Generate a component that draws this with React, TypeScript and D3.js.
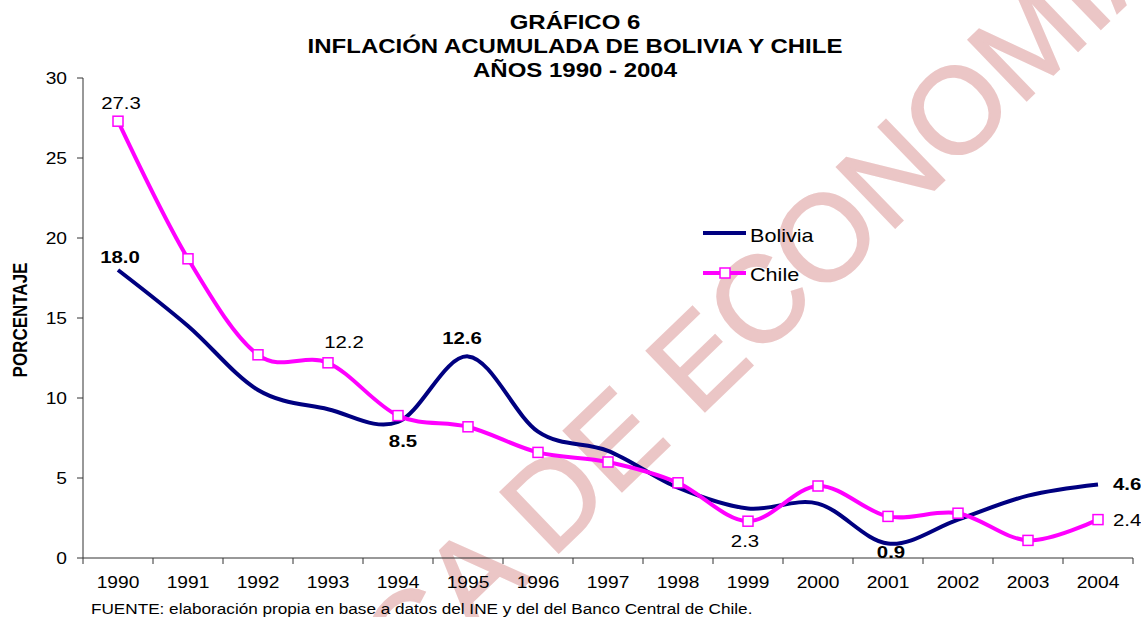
import React from "react";
import * as d3 from "d3";

// chart data
const years = ["1990", "1991", "1992", "1993", "1994", "1995", "1996", "1997", "1998", "1999", "2000", "2001", "2002", "2003", "2004"];
const bolivia = [18.0, 14.5, 10.5, 9.3, 8.5, 12.6, 7.9, 6.7, 4.4, 3.1, 3.4, 0.9, 2.4, 3.9, 4.6];
const chile = [27.3, 18.7, 12.7, 12.2, 8.9, 8.2, 6.6, 6.0, 4.7, 2.3, 4.5, 2.6, 2.8, 1.1, 2.4];
const yTicks = [0, 5, 10, 15, 20, 25, 30];
const titleLines = ["GRÁFICO 6", "INFLACIÓN ACUMULADA DE BOLIVIA Y CHILE", "AÑOS 1990 - 2004"];
const boliviaLabelIdx = [0, 4, 5, 11, 14];
const chileLabelIdx = [0, 3, 9, 14];

// label placement (style only): [dx, dy, anchor]
const boliviaPlace: Record<number, [number, number, string]> = {
  0: [2, -7, "middle"],
  4: [5, 25, "middle"],
  5: [-6, -12, "middle"],
  11: [3, 14, "middle"],
  14: [15, 6, "start"],
};
const chilePlace: Record<number, [number, number, string]> = {
  0: [3, -12, "middle"],
  3: [16, -15, "middle"],
  9: [-3, 26, "middle"],
  14: [15, 6, "start"],
};

const W = 1141;
const H = 617;
const margin = { left: 83, right: 1133, top: 78, bottom: 558 };
const SX = 1.2; // the original picture is stretched sideways
const font = "'Liberation Sans', Arial, sans-serif";
const navy = "#000080";
const magenta = "#FF00FF";

const T = ({ x, y, size, weight = "normal", anchor = "start", children, rotate = 0 }: any) => (
  <text
    transform={`translate(${x},${y}) scale(${SX},1)${rotate ? ` rotate(${rotate})` : ""}`}
    fontSize={size}
    fontWeight={weight}
    textAnchor={anchor}
    fontFamily={font}
    fill="#000"
  >
    {children}
  </text>
);

export default function App() {
  const x = d3.scaleBand().domain(years).range([margin.left, margin.right]).padding(0);
  const y = d3.scaleLinear().domain([0, 30]).range([margin.bottom, margin.top]);
  const cx = (i: number) => (x(years[i]) as number) + x.bandwidth() / 2;

  const line = d3
    .line<number>()
    .x((_, i) => cx(i))
    .y((d) => y(d))
    .curve(d3.curveCardinal.tension(0));

  const bounds = [...years.map((yr) => x(yr) as number), margin.right];

  return (
    <svg width={W} height={H} style={{ position: "absolute", left: 0, top: 0, background: "#fff" }}>
      {/* watermark */}
      <text
        transform="translate(410,696) rotate(-44)"
        fontSize={122}
        fontFamily={font}
        fill="#EBC6C6"
        stroke="#EBC6C6"
        strokeWidth={2}
      >
        CA DE ECONOMIA
      </text>

      {titleLines.map((t, i) => (
        <T key={t} x={575} y={29 + i * 24} size={20} weight="bold" anchor="middle">
          {t}
        </T>
      ))}

      {/* y axis */}
      <line x1={margin.left} x2={margin.left} y1={y(30)} y2={y(0)} stroke="#333" />
      {yTicks.map((t) => (
        <g key={t}>
          <line x1={margin.left - 6} x2={margin.left} y1={y(t)} y2={y(t)} stroke="#333" />
          <T x={margin.left - 16} y={y(t) + 6} size={16} anchor="end">
            {t}
          </T>
        </g>
      ))}
      <T x={27} y={320} size={17} weight="bold" anchor="middle" rotate={-90}>
        PORCENTAJE
      </T>

      {/* x axis */}
      <line x1={margin.left} x2={margin.right} y1={y(0)} y2={y(0)} stroke="#333" />
      {bounds.map((b, i) => (
        <line key={i} x1={b} x2={b} y1={y(0)} y2={y(0) + 6} stroke="#333" />
      ))}
      {years.map((yr, i) => (
        <T key={yr} x={cx(i)} y={588} size={16} anchor="middle">
          {yr}
        </T>
      ))}

      {/* series */}
      <path d={line(bolivia) || ""} fill="none" stroke={navy} strokeWidth={4} />
      <path d={line(chile) || ""} fill="none" stroke={magenta} strokeWidth={4} />
      {chile.map((d, i) => (
        <rect key={i} x={cx(i) - 5} y={y(d) - 5} width={10} height={10} fill="#fff" stroke={magenta} strokeWidth={1.5} />
      ))}

      {/* data labels */}
      {boliviaLabelIdx.map((i) => {
        const [dx, dy, a] = boliviaPlace[i];
        return (
          <T key={"b" + i} x={cx(i) + dx} y={y(bolivia[i]) + dy} size={17} weight="bold" anchor={a}>
            {bolivia[i].toFixed(1)}
          </T>
        );
      })}
      {chileLabelIdx.map((i) => {
        const [dx, dy, a] = chilePlace[i];
        return (
          <T key={"c" + i} x={cx(i) + dx} y={y(chile[i]) + dy} size={17} anchor={a}>
            {chile[i].toFixed(1)}
          </T>
        );
      })}

      {/* legend */}
      <line x1={703} x2={746} y1={233} y2={233} stroke={navy} strokeWidth={4} />
      <T x={750} y={242} size={18}>Bolivia</T>
      <line x1={703} x2={746} y1={273} y2={273} stroke={magenta} strokeWidth={4} />
      <rect x={720} y={268} width={10} height={10} fill="#fff" stroke={magenta} strokeWidth={1.5} />
      <T x={750} y={281} size={18}>Chile</T>

      <T x={91} y={614} size={14.3}>
        FUENTE: elaboración propia en base a datos del INE y del del Banco Central de Chile.
      </T>
    </svg>
  );
}
